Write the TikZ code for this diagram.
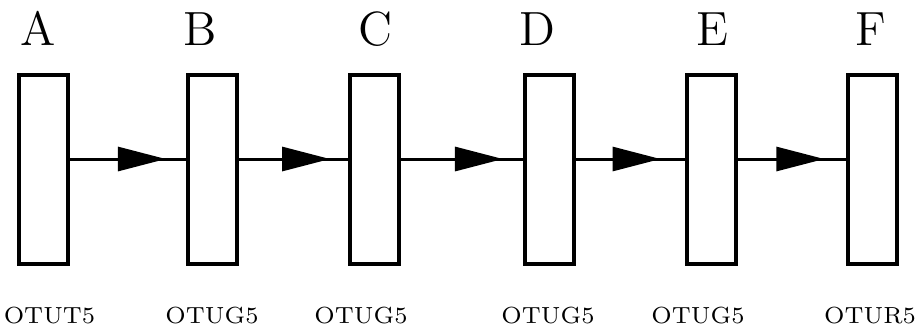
\documentclass[tikz,border=0pt]{standalone}
\usepackage{amsmath,amssymb}
\usepackage{tikz}
\usetikzlibrary{arrows.meta,decorations.markings}

\tikzset{
  otubox/.style = {draw, line width = 1.2pt, minimum width = 14.7pt, minimum height = 56.7pt, inner sep = 0pt},
  flow/.style = {line width = 0.9pt, postaction = {decorate},
    decoration = {markings, mark = at position #1 with {\arrow{Triangle[length = 14.4pt, width = 7.2pt]}}}}
}

\begin{document}
\begin{tikzpicture}[x = 0.3pt, y = -0.3pt]
\useasboundingbox (0, 0) rectangle (915, 325);
\coordinate (flowline) at (0, 159);
\foreach \n/\bx/\lx/\otu/\ox in {A/43.5/38/OTUT5/49.5, B/212/200/OTUG5/212, C/374/375/OTUG5/361,
                                 D/549/537/OTUG5/548, E/711/712/OTUG5/698, F/872.5/871/OTUR5/870}{
  \node[otubox] (box\n) at (\bx, 169) {};
  \node[anchor = base, font = \Large, inner sep = 0pt] (lab\n) at (\lx, 45) {\n};
  \node[anchor = base, font = \scriptsize, inner sep = 0pt] (otu\n) at (\ox, 323) {\otu};
}
\foreach \a/\b/\p in {A/B/0.83, B/C/0.84, C/D/0.84, D/E/0.78, E/F/0.8}{\draw[flow = \p] (box\a.east |- flowline) -- (box\b.west |- flowline);}
\end{tikzpicture}
\end{document}
